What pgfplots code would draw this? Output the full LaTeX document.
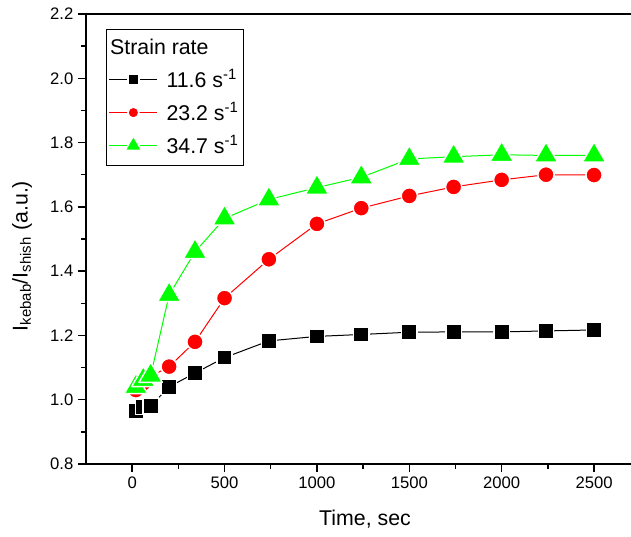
\documentclass[border=0pt]{standalone}
\usepackage{fontspec}
\setmainfont{Liberation Sans}
\usepackage{pgfplots}
\pgfplotsset{compat=1.18}
\definecolor{myred}{RGB}{255,0,0}
\definecolor{mygreen}{RGB}{0,255,0}
\pgfplotsset{
  sq/.style={black, line width=0.75pt, mark=square*, mark size=5.7pt,
    mark options={fill=black, draw=white, line width=1.1pt, solid, line join=miter}},
  ci/.style={myred, line width=0.75pt, mark=*, mark size=6.1pt,
    mark options={fill=myred, draw=white, line width=1.1pt, solid}},
  tr/.style={mygreen, line width=0.75pt, mark=triangle*, mark size=10.1pt,
    mark options={fill=mygreen, draw=white, line width=1.1pt, solid, line join=round}},
}
\begin{document}
\begin{tikzpicture}
\begin{axis}[
  scale only axis,
  width=408.75pt, height=337.5pt,
  xmin=-250, xmax=2700, ymin=0.8, ymax=2.2,
  axis x line*=box, axis y line*=left,
  axis line style={line width=1.3pt, black},
  xtick={0,500,1000,1500,2000,2500},
  ytick={0.8,1.0,1.2,1.4,1.6,1.8,2.0,2.2},
  minor x tick num=1, minor y tick num=1,
  xtick pos=left, ytick pos=left,
  tick align=outside,
  major tick length=6pt, minor tick length=3.5pt,
  every tick/.style={black, line width=1.1pt},
  /pgf/number format/assume math mode=true,
  tick label style={font=\fontsize{12.5}{15}\selectfont},
  xticklabel style={/pgf/number format/1000 sep={}},
  yticklabel style={/pgf/number format/fixed, /pgf/number format/fixed zerofill, /pgf/number format/precision=1},
  xlabel={Time, sec},
  xlabel style={at={(axis description cs:0.512,0)}, anchor=base, yshift=-45.75pt, font=\fontsize{16}{19}\selectfont},
  ylabel={I\textsubscript{kebab}/I\textsubscript{shish} (a.u.)},
  ylabel style={at={(axis description cs:-0.1174,0.462)}, anchor=center, font=\fontsize{16}{19}\selectfont},
  legend style={at={(axis description cs:0.0361,0.967)}, anchor=north west,
    draw=black, line width=0.8pt, fill=white,
    font=\fontsize{16}{19}\selectfont, row sep=5.3pt, column sep=4.5pt,
    inner xsep=2pt, inner ysep=5.5pt},
  legend cell align=left,
  legend image code/.code={\draw[#1, mark repeat=2, mark phase=2] plot coordinates {(0pt,0pt) (18pt,0pt) (36pt,0pt)};},
]
\addplot[sq, forget plot] coordinates {
(20,0.966) (60,0.978) (100,0.981) (200,1.040) (340,1.083) (500,1.131) (740,1.183)
(1000,1.197) (1240,1.203) (1500,1.210) (1740,1.211) (2000,1.211) (2240,1.214) (2500,1.217)};
\addplot[ci, forget plot] coordinates {
(20,1.030) (60,1.051) (100,1.072) (200,1.103) (340,1.180) (500,1.316) (740,1.437)
(1000,1.547) (1240,1.596) (1500,1.634) (1740,1.662) (2000,1.684) (2240,1.700) (2500,1.699)};
\addplot[tr, forget plot] coordinates {
(20,1.040) (60,1.062) (100,1.075) (200,1.326) (340,1.460) (500,1.564) (740,1.623)
(1000,1.660) (1240,1.692) (1500,1.749) (1740,1.756) (2000,1.762) (2240,1.760) (2500,1.760)};
\addlegendimage{empty legend}
\addlegendentry{\hspace{-42.3pt}Strain rate}
\addlegendimage{sq, mark size=4.1pt}
\addlegendentry{11.6 s\textsuperscript{-1}}
\addlegendimage{ci, mark size=4.1pt}
\addlegendentry{23.2 s\textsuperscript{-1}}
\addlegendimage{tr, mark size=7.2pt}
\addlegendentry{34.7 s\textsuperscript{-1}}
\coordinate (SW) at (rel axis cs:0,0);
\coordinate (NE) at (rel axis cs:1,1);
\end{axis}
\pgfresetboundingbox
\path ([xshift=-64.5pt,yshift=-54pt]SW) rectangle ([yshift=10.5pt]NE);
\end{tikzpicture}
\end{document}
